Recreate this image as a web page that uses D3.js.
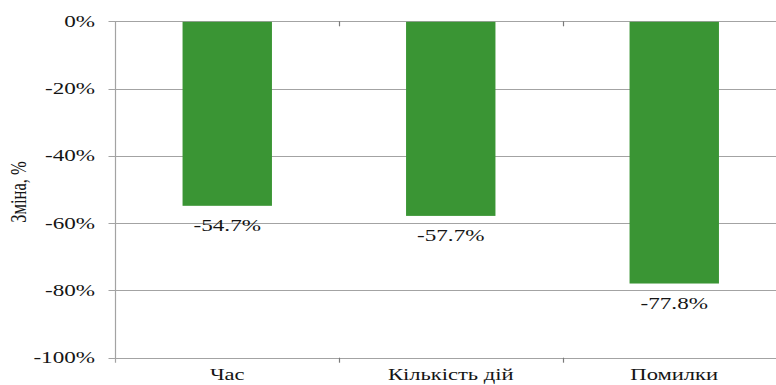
<!DOCTYPE html>
<html>
<head>
<meta charset="utf-8">
<script src="https://cdn.jsdelivr.net/npm/d3@7/dist/d3.min.js"></script>
<style>
  html, body { margin: 0; padding: 0; background: #fff; }
  svg { display: block; }
</style>
</head>
<body>
<svg id="chart" width="776" height="385"></svg>
<script>
// Relative change per measure, in percent
const categories = ["Час", "Кількість дій", "Помилки"];
const values = [-54.7, -57.7, -77.8];
const yTicks = [0, -20, -40, -60, -80, -100];
const yTitle = "Зміна, %";

const FONT = "'Liberation Serif', 'Tinos', 'Times New Roman', serif";
const STRETCH = 1.36;   // wide serif lettering
const TEXT_COLOR = "#151515";

const svg = d3.select("#chart");
const margin = { left: 115.5, top: 21.3, right: -10 };
const W = 776;

const x = d3.scaleBand()
  .domain(categories)
  .range([margin.left, W - margin.right])
  .paddingInner(0.6)
  .paddingOuter(0.3);

const y = d3.scaleLinear()
  .domain([0, -100])
  .range([margin.top, 357.7]);

const gridColor = "#a3a3a3";

// Helper: wide text anchored at (px, py)
function label(g, px, py, str, size, anchor) {
  return g.append("text")
    .attr("transform", `translate(${px},${py}) scale(${STRETCH},1)`)
    .attr("font-family", FONT)
    .attr("font-size", size)
    .attr("fill", TEXT_COLOR)
    .attr("text-anchor", anchor)
    .text(str);
}

// Horizontal gridlines with small tick marks left of the axis
svg.append("g").selectAll("line")
  .data(yTicks)
  .join("line")
  .attr("x1", margin.left - 7)
  .attr("x2", W)
  .attr("y1", d => Math.round(y(d)) + 0.5)
  .attr("y2", d => Math.round(y(d)) + 0.5)
  .attr("stroke", gridColor)
  .attr("stroke-width", 1.2);

// Vertical axis line
svg.append("line")
  .attr("x1", margin.left).attr("x2", margin.left)
  .attr("y1", y(0)).attr("y2", y(-100) + 5)
  .attr("stroke", gridColor)
  .attr("stroke-width", 1.2);

// Y tick labels
const yLab = svg.append("g");
yTicks.forEach(d => label(yLab, 95, y(d) + 5.6, d + "%", 17, "end"));

// Y axis title
svg.append("text")
  .attr("transform", `translate(26,192) scale(${STRETCH},1) rotate(-90)`)
  .attr("font-family", FONT)
  .attr("font-size", 16.5)
  .attr("fill", TEXT_COLOR)
  .attr("text-anchor", "middle")
  .text(yTitle);

// Category separators: ticks on the zero line and on the bottom line
const bounds = categories.slice(1).map(c => x(c) - x.step() * x.paddingInner() / 2);
[0, -100].forEach(level => {
  svg.append("g").selectAll("line")
    .data(bounds)
    .join("line")
    .attr("x1", d => Math.round(d) + 0.5).attr("x2", d => Math.round(d) + 0.5)
    .attr("y1", y(level)).attr("y2", y(level) + 5)
    .attr("stroke", "#7a7a7a").attr("stroke-width", 1.2);
});

const rows = categories.map((c, i) => ({ c, v: values[i] }));

// Bars
svg.append("g").selectAll("rect")
  .data(rows)
  .join("rect")
  .attr("x", d => x(d.c))
  .attr("width", x.bandwidth())
  .attr("y", y(0) + 0.5)
  .attr("height", d => y(d.v) - y(0))
  .attr("fill", "#3a9534");

// Value labels below each bar
const vLab = svg.append("g");
rows.forEach(d => label(vLab, x(d.c) + x.bandwidth() / 2, y(d.v) + 25.5,
  d.v.toFixed(1) + "%", 17, "middle"));

// Category labels
const cLab = svg.append("g");
categories.forEach(c => label(cLab, x(c) + x.bandwidth() / 2, 380, c, 16.6, "middle"));
</script>
</body>
</html>
